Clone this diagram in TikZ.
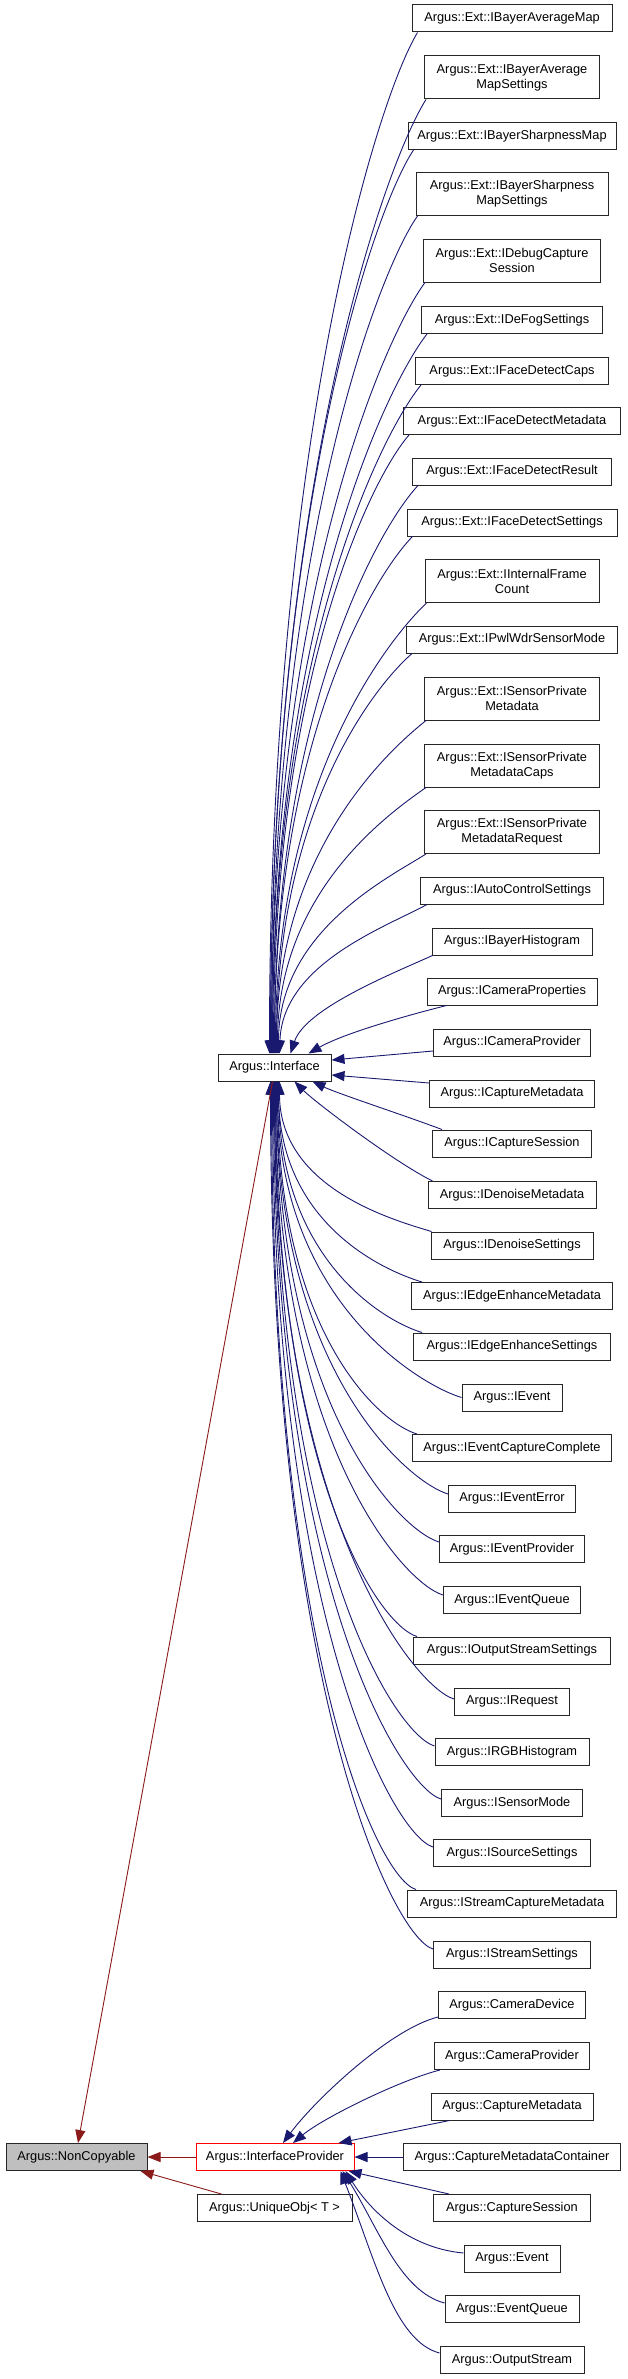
\documentclass[tikz,border=0pt]{standalone}
\usepackage{fontspec}
\setmainfont{Liberation Sans}
\usetikzlibrary{arrows.meta,calc}
\definecolor{edgeblue}{HTML}{191970}
\definecolor{edgered}{HTML}{8B1A1A}
\definecolor{boxgray}{HTML}{BFBFBF}
\begin{document}
\begin{tikzpicture}[x=1pt,y=-1pt,
  cls/.style={draw=black!85, line width=1pt, fill=white, inner sep=0pt, align=center,
    font=\fontsize{12.8}{15}\selectfont, minimum height=27pt},
  cls2/.style={cls, minimum height=43pt},
  inh/.style={draw=edgeblue, line width=0.9pt, -{Triangle[length=13pt,width=10pt]}},
  inhred/.style={draw=edgered, line width=0.9pt, -{Triangle[length=13pt,width=10pt]}}]
\useasboundingbox (0,0) rectangle (627,2379);
% Interface children
\node[cls, minimum width=200pt] (n1) at (512,18.5) {Argus::Ext::IBayerAverageMap};
\node[cls2, minimum width=175pt] (n2) at (512,77.5) {Argus::Ext::IBayerAverage\\MapSettings};
\node[cls, minimum width=208pt] (n3) at (512,136) {Argus::Ext::IBayerSharpnessMap};
\node[cls2, minimum width=192pt] (n4) at (512,194) {Argus::Ext::IBayerSharpness\\MapSettings};
\node[cls2, minimum width=177pt] (n5) at (512,260.5) {Argus::Ext::IDebugCapture\\Session};
\node[cls, minimum width=181pt] (n6) at (512,320) {Argus::Ext::IDeFogSettings};
\node[cls, minimum width=193pt] (n7) at (512,371) {Argus::Ext::IFaceDetectCaps};
\node[cls, minimum width=217pt] (n8) at (512,421) {Argus::Ext::IFaceDetectMetadata};
\node[cls, minimum width=199pt] (n9) at (512,471.5) {Argus::Ext::IFaceDetectResult};
\node[cls, minimum width=210pt] (n10) at (512,522.5) {Argus::Ext::IFaceDetectSettings};
\node[cls2, minimum width=174pt] (n11) at (512,581) {Argus::Ext::IInternalFrame\\Count};
\node[cls, minimum width=211pt] (n12) at (512,639.5) {Argus::Ext::IPwlWdrSensorMode};
\node[cls2, minimum width=175pt] (n13) at (512,698.5) {Argus::Ext::ISensorPrivate\\Metadata};
\node[cls2, minimum width=175pt] (n14) at (512,765.5) {Argus::Ext::ISensorPrivate\\MetadataCaps};
\node[cls2, minimum width=175pt] (n15) at (512,832) {Argus::Ext::ISensorPrivate\\MetadataRequest};
\node[cls, minimum width=183pt] (n16) at (512,890.5) {Argus::IAutoControlSettings};
\node[cls, minimum width=160pt] (n17) at (512,941.5) {Argus::IBayerHistogram};
\node[cls, minimum width=170pt] (n18) at (512,991.5) {Argus::ICameraProperties};
\node[cls, minimum width=157pt] (n19) at (512,1042.5) {Argus::ICameraProvider};
\node[cls, minimum width=165pt] (n20) at (512,1093.5) {Argus::ICaptureMetadata};
\node[cls, minimum width=159pt] (n21) at (512,1143.5) {Argus::ICaptureSession};
\node[cls, minimum width=168pt] (n22) at (512,1195) {Argus::IDenoiseMetadata};
\node[cls, minimum width=162pt] (n23) at (512,1245.5) {Argus::IDenoiseSettings};
\node[cls, minimum width=201pt] (n24) at (512,1296) {Argus::IEdgeEnhanceMetadata};
\node[cls, minimum width=197pt] (n25) at (512,1346.5) {Argus::IEdgeEnhanceSettings};
\node[cls, minimum width=100pt] (n26) at (512,1397.5) {Argus::IEvent};
\node[cls, minimum width=199pt] (n27) at (512,1448) {Argus::IEventCaptureComplete};
\node[cls, minimum width=127pt] (n28) at (512,1498.5) {Argus::IEventError};
\node[cls, minimum width=145pt] (n29) at (512,1549) {Argus::IEventProvider};
\node[cls, minimum width=137pt] (n30) at (512,1600) {Argus::IEventQueue};
\node[cls, minimum width=197pt] (n31) at (512,1650.5) {Argus::IOutputStreamSettings};
\node[cls, minimum width=115pt] (n32) at (512,1701.5) {Argus::IRequest};
\node[cls, minimum width=154pt] (n33) at (512,1752) {Argus::IRGBHistogram};
\node[cls, minimum width=141pt] (n34) at (512,1803) {Argus::ISensorMode};
\node[cls, minimum width=157pt] (n35) at (512,1853) {Argus::ISourceSettings};
\node[cls, minimum width=209pt] (n36) at (512,1903.5) {Argus::IStreamCaptureMetadata};
\node[cls, minimum width=157pt] (n37) at (512,1954.5) {Argus::IStreamSettings};
% InterfaceProvider children
\node[cls, minimum width=147pt] (p1) at (512,2005) {Argus::CameraDevice};
\node[cls, minimum width=155pt] (p2) at (512,2056) {Argus::CameraProvider};
\node[cls, minimum width=162pt] (p3) at (512,2106.5) {Argus::CaptureMetadata};
\node[cls, minimum width=217pt] (p4) at (512,2157) {Argus::CaptureMetadataContainer};
\node[cls, minimum width=157pt] (p5) at (512,2208) {Argus::CaptureSession};
\node[cls, minimum width=96pt] (p6) at (512,2258.5) {Argus::Event};
\node[cls, minimum width=134pt] (p7) at (512,2309) {Argus::EventQueue};
\node[cls, minimum width=144pt] (p8) at (512,2360) {Argus::OutputStream};
% left nodes
\node[cls, minimum width=113pt] (iface) at (274.5,1067.5) {Argus::Interface};
\node[cls, draw=red, minimum width=158pt] (iprov) at (275,2157) {Argus::InterfaceProvider};
\node[cls, fill=boxgray, minimum width=141pt] (nonc) at (76.5,2157) {Argus::NonCopyable};
\node[cls, minimum width=155pt] (uobj) at (274.5,2208) {Argus::UniqueObj< T >};
% edges to Interface from above
\foreach \n/\s/\a/\bx/\by/\k in {n1/6/66/0/-613/-5, n2/2/63/0/-573/-4, n3/6/60/0/-543/-4,
  n4/2/57/0/-503/-3, n5/2/54/0/-463/-3, n6/6/51/0/-433/-2, n7/6/49/0/-402/-2,
  n8/6/46/0/-372/-1, n9/6/43/0/-341/0, n10/6/41/0/-311/0, n11/2/38/0/-271/1,
  n12/6/35/0/-241/2, n13/2/32/0/-200/2, n14/2/28/0/-160/3, n15/2/25/0/-121/4,
  n16/7/22/3/-90/5, n17/1/18/15/-45/16, n18/20/10/35/-20/34}
  \draw[inh] ($(\n.south west)+(\s,0)$) .. controls +(-40,\a) and +(\bx,\by) .. ($(iface.north)+(\k,0)$);
% edges to Interface from the side
\draw[inh] ($(n19.west)+(0,8.5)$) -- ($(iface.east)+(0,-7.5)$);
\draw[inh] ($(n20.west)+(0,-10.5)$) -- ($(iface.east)+(0,7.5)$);
\draw[inh] ($(n21.north west)+(10,0)$) .. controls +(-40,-15) and +(25,12) .. ($(iface.south)+(38,0)$);
\draw[inh] ($(n22.north west)+(5,0)$) .. controls +(-40,-20) and +(20,20) .. ($(iface.south)+(20,0)$);
% edges to Interface from below
\foreach \n/\anc/\dx/\dy/\by/\k in {n23/north west/1/0/106/5, n24/north west/11/0/141/4,
  n25/north west/9/0/176/4, n26/west/0/0/221/3, n27/north west/5/0/248/3,
  n28/west/0/-4.5/289/2, n29/west/0/-7/323/2, n30/west/0/-5/360/1,
  n31/north west/4/0/389/1, n32/west/0/-2.5/433/0, n33/west/0/-6/466/0,
  n34/west/0/-4/503/-1, n35/west/0/-6/536/-2, n36/north west/9/0/566/-3,
  n37/west/0/-5.5/608/-4}
  \draw[inh] ($(\n.\anc)+(\dx,\dy)$) .. controls +(-40,-12) and +(0,\by) .. ($(iface.south)+(\k,0)$);
% edges to InterfaceProvider
\draw[inh] ($(p1.south west)+(0,-2)$) .. controls +(-48,12) and +(32,-43) .. ($(iprov.north)+(8,0)$);
\draw[inh] ($(p2.south west)+(6,0)$) .. controls +(-40,10) and +(30,-25) .. ($(iprov.north)+(18,0)$);
\draw[inh] ($(p3.south west)+(19,0)$) -- ($(iprov.north east)+(-16,0)$);
\draw[inh] (p4.west) -- (iprov.east);
\draw[inh] ($(p5.north west)+(16,0)$) -- ($(iprov.south east)+(-6,0)$);
\draw[inh] ($(p6.west)+(0,-5.5)$) .. controls +(-55,-5) and +(25,40) .. ($(iprov.south east)+(-9,0)$);
\draw[inh] ($(p7.west)+(0,-6)$) .. controls +(-45,-12) and +(35,55) .. ($(iprov.south east)+(-12,0)$);
\draw[inh] ($(p8.west)+(0,-7)$) .. controls +(-45,-12) and +(35,90) .. ($(iprov.south east)+(-14,0)$);
% edges to NonCopyable
\draw[inhred] ($(iface.south)+(-2,0)$) -- ($(nonc.north)+(1.5,0)$);
\draw[inhred] (iprov.west) -- (nonc.east);
\draw[inhred] ($(uobj.north west)+(25,0)$) -- ($(nonc.south east)+(-7,0)$);
\end{tikzpicture}
\end{document}
